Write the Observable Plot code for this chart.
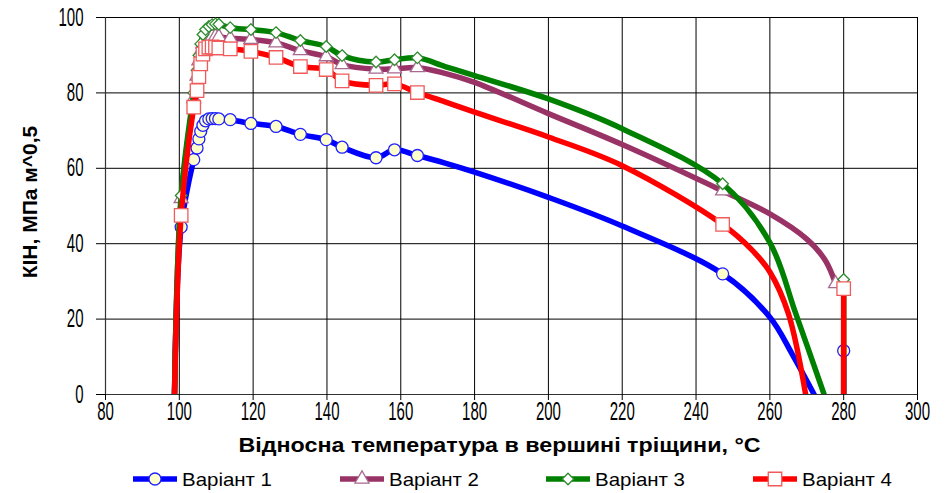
<!DOCTYPE html>
<html>
<head>
<meta charset="utf-8">
<script src="https://cdn.jsdelivr.net/npm/d3@7"></script>
<script src="https://cdn.jsdelivr.net/npm/@observablehq/plot@0.6"></script>
<style>
  body { margin: 0; background: #fff; }
  #chart svg { display: block; }
  .fnt { font-family: "Liberation Sans", Arial, sans-serif; }
  #legend { position: relative; height: 35px; width: 949px; }
</style>
</head>
<body>
<div id="chart"></div>
<div id="legend"></div>
<script>
// ---------- data ----------
const seriesNames = ["Варіант 1", "Варіант 2", "Варіант 3", "Варіант 4"];
const seriesColors = ["#0000ff", "#993366", "#008000", "#ff0000"];
const xTicks = [80, 100, 120, 140, 160, 180, 200, 220, 240, 260, 280, 300];
const yTicks = [0, 20, 40, 60, 80, 100];
const xTitle = "Відносна температура в вершині тріщини, °C";
const yTitle = "КІН, МПа м^0,5";

const startT = 98.7; // line start at KIH = 0
const peakT = [100.5, 103.9, 104.8, 105.3, 105.8, 106.4, 107.1, 108.0, 108.9, 109.8, 110.7, 113.8, 119.4, 126.2, 132.8, 139.8, 144.1, 153.3, 158.3, 164.5];
const peak1 = [44.4, 62.3, 65.4, 67.8, 69.8, 71.4, 72.6, 73.1, 73.2, 73.2, 73.1, 72.9, 71.9, 71.1, 69.0, 67.6, 65.6, 62.8, 64.9, 63.4];
const peak2 = [52.0, 78.5, 84.5, 88.5, 91.0, 93.0, 94.2, 94.8, 95.0, 95.0, 94.9, 94.5, 94.2, 93.3, 91.2, 89.6, 87.5, 86.3, 86.4, 86.7];
const peak3 = [52.8, 80.0, 86.0, 90.0, 93.0, 95.5, 96.8, 97.6, 98.1, 98.3, 98.2, 97.3, 96.8, 96.0, 93.9, 92.3, 89.9, 88.2, 88.8, 89.3];
const peak4 = [47.5, 76.2, 80.6, 84.3, 87.7, 90.3, 91.7, 92.1, 92.2, 92.1, 91.9, 91.7, 91.0, 89.4, 87.0, 86.2, 83.2, 82.0, 82.4, 80.1];

// unmarked stretch of the curves
const midT = [172, 180, 200, 220];
const mid1 = [61.4, 59.0, 52.3, 44.7];
const mid2 = [85.2, 82.8, 74.5, 66.3];
const mid3 = [87.0, 84.6, 78.4, 70.5];
const mid4 = [77.6, 74.9, 68.3, 60.7];

const t247 = 247.2;
const v247 = [32.0, 54.0, 55.9, 45.1];

// falling tails (unmarked)
const tailT1 = [260, 266.0, 272.0], tail1 = [20.5, 10.8, 0];
const tailT2 = [260, 270.0, 275.0], tail2 = [47.9, 41.2, 35.6];
const tailT3 = [260, 267.0, 274.7], tail3 = [40.3, 21.5, 0];
const tailT4 = [255, 260, 265.0, 269.7], tail4 = [38.5, 32.5, 21.5, 0];

// last marked points
const endT = [280, 277.8, 280, 280];
const endV = [11.6, 29.4, 30.5, 28.1];
const verticalAtEnd = [true, false, true, true];

// ---------- build tables ----------
const peaks = [peak1, peak2, peak3, peak4];
const mids = [mid1, mid2, mid3, mid4];
const tailTs = [tailT1, tailT2, tailT3, tailT4];
const tails = [tail1, tail2, tail3, tail4];

const lines = [], verts = [], marks = [];
seriesNames.forEach((s, i) => {
  lines.push({s, x: startT, y: 0});
  peakT.forEach((t, j) => lines.push({s, x: t, y: peaks[i][j]}));
  midT.forEach((t, j) => lines.push({s, x: t, y: mids[i][j]}));
  lines.push({s, x: t247, y: v247[i]});
  tailTs[i].forEach((t, j) => lines.push({s, x: t, y: tails[i][j]}));
  if (!verticalAtEnd[i]) lines.push({s, x: endT[i], y: endV[i]});
  else { verts.push({s, x: endT[i], y: 0}); verts.push({s, x: endT[i], y: endV[i]}); }
  peakT.forEach((t, j) => marks.push({s, x: t, y: peaks[i][j]}));
  marks.push({s, x: t247, y: v247[i]});
  marks.push({s, x: endT[i], y: endV[i]});
});

const symbols = ["circle", "triangle", "diamond2", "square"];
const radii = [6, 5.2, 5.2, 7.6];
const fills = ["#ffffcc", "#ffffff", "#ffffff", "#ffffff"];
const mStroke = ["#2020ff", "#a86a90", "#2e8b2e", "#f05a5a"];

const markLayers = [];
seriesNames.forEach((s, i) => {
  markLayers.push(Plot.line(lines.filter(d => d.s === s), {x: "x", y: "y", stroke: seriesColors[i], strokeWidth: 5.5, curve: "catmull-rom", clip: true, strokeLinejoin: "round"}));
  markLayers.push(Plot.line(verts.filter(d => d.s === s), {x: "x", y: "y", stroke: seriesColors[i], strokeWidth: 5.5, clip: true}));
  markLayers.push(Plot.dot(marks.filter(d => d.s === s), {x: "x", y: "y", symbol: () => symbols[i], r: radii[i], fill: fills[i], stroke: mStroke[i], strokeWidth: 1.3}));
});

const chart = Plot.plot({
  width: 949,
  height: 458,
  marginLeft: 105,
  marginRight: 32,
  marginTop: 17,
  marginBottom: 64,
  className: "fnt",
  style: {fontSize: "25px", fontFamily: '"Liberation Sans", Arial, sans-serif', color: "#000", background: "#fff"},
  x: {domain: [80, 300]},
  y: {domain: [0, 100]},
  marks: [
    Plot.gridX(xTicks, {stroke: "#000", strokeOpacity: 1, strokeWidth: 1}),
    Plot.gridY(yTicks, {stroke: "#000", strokeOpacity: 1, strokeWidth: 1}),
    Plot.ruleX([80], {stroke: "#333", strokeWidth: 1.2}),
    Plot.ruleY([0], {stroke: "#333", strokeWidth: 1.2}),
    Plot.axisX(xTicks, {tickSize: 6, tickPadding: 2, fontSize: 25, label: null}),
    Plot.axisY(yTicks, {tickSize: 9, tickPadding: 13, fontSize: 25, label: null}),
    ...markLayers,
    Plot.text([xTitle], {frameAnchor: "bottom", dy: 57, fontWeight: "bold", fontSize: 21, dx: -12}),
    Plot.text([yTitle], {frameAnchor: "left", textAnchor: "middle", dx: -75, dy: -4, rotate: -90, fontWeight: "bold", fontSize: 21})
  ]
});
document.getElementById("chart").appendChild(chart);

// condensed look of the original fonts
function fitText(el, len) {
  el.setAttribute("textLength", len);
  el.setAttribute("lengthAdjust", "spacingAndGlyphs");
}
chart.querySelectorAll('g[aria-label="x-axis tick label"] text, g[aria-label="y-axis tick label"] text').forEach(t => {
  t.style.fontSize = "25px";
  fitText(t, (t.getComputedTextLength() * 0.6).toFixed(1));
});
chart.querySelectorAll("text").forEach(t => {
  if (t.textContent === xTitle) fitText(t, 522);
});

// ---------- legend ----------
const legendX = [133, 340, 546, 753];
const leg = d3.select("#legend").append("svg").attr("width", 949).attr("height", 35).attr("class", "fnt");
const symMap = {circle: d3.symbolCircle, triangle: d3.symbolTriangle, diamond2: d3.symbolDiamond2, square: d3.symbolSquare};
seriesNames.forEach((s, i) => {
  const g = leg.append("g").attr("transform", `translate(${legendX[i]},21)`);
  g.append("line").attr("x1", 0).attr("x2", 44).attr("y1", 0).attr("y2", 0).attr("stroke", seriesColors[i]).attr("stroke-width", 5.5);
  g.append("path").attr("d", d3.symbol(symMap[symbols[i]], Math.PI * radii[i] * radii[i])())
    .attr("transform", "translate(22,0)").attr("fill", fills[i]).attr("stroke", mStroke[i]).attr("stroke-width", 1.3);
  const tx = g.append("text").attr("x", 49).attr("y", 7).attr("font-size", 19).attr("fill", "#000").text(s);
  fitText(tx.node(), 90);
});
</script>
</body>
</html>
